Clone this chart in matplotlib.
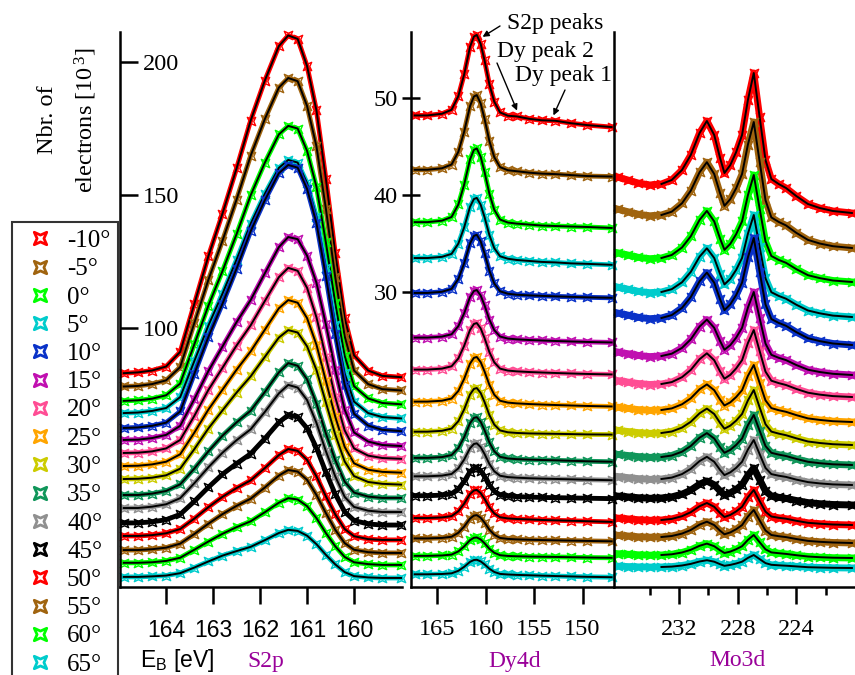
import matplotlib.pyplot as plt
from matplotlib.lines import Line2D
from matplotlib.path import Path

# Emission angles and their colours
angles = ['-10°', '-5°', '0°', '5°', '10°', '15°', '20°', '25°',
          '30°', '35°', '40°', '45°', '50°', '55°', '60°', '65°']
colors = ['#ff0000', '#a0640f', '#00ff00', '#00cccc', '#0a32c8', '#c010b0',
          '#ff4d94', '#ffa500', '#cccc00', '#10965a', '#909090', '#000000',
          '#ff0000', '#a0640f', '#00ff00', '#00cccc']

# S2p region (binding energy in eV, counts in 10^3)
s2p_energy = [164.9, 164.6, 164.3, 164.0, 163.7, 163.4, 163.1, 162.8, 162.5, 162.2, 161.9, 161.6,
              161.4, 161.2, 161.0, 160.8, 160.6, 160.4, 160.2, 160.0, 159.7, 159.4, 159.0]
s2p_counts = [
    [83.0, 83.3, 84.0, 85.5, 91.0, 109.0, 127.0, 143.0, 160.0, 178.0, 193.0, 206.0, 210.0, 208.7, 198.5, 181.8, 156.2, 128.1, 103.8, 89.7, 84.0, 82.0, 81.5],
    [78.0, 78.2, 78.9, 80.3, 85.3, 101.8, 118.1, 132.8, 148.3, 164.8, 178.5, 190.4, 194.0, 192.8, 183.5, 168.3, 144.9, 119.1, 96.9, 84.0, 78.9, 77.0, 76.5],
    [72.6, 72.8, 73.4, 74.7, 79.1, 93.8, 108.4, 121.4, 135.3, 149.9, 162.1, 172.8, 176.0, 175.0, 166.6, 153.1, 132.2, 109.3, 89.5, 78.1, 73.5, 71.8, 71.3],
    [68.0, 68.2, 68.8, 69.9, 74.0, 87.5, 100.9, 112.9, 125.7, 139.2, 150.4, 160.2, 163.2, 162.2, 154.5, 141.9, 122.6, 101.3, 82.9, 72.3, 68.0, 66.5, 66.0],
    [62.4, 62.6, 63.2, 64.4, 68.6, 82.7, 96.6, 109.1, 122.3, 136.4, 148.0, 158.2, 161.3, 160.3, 152.3, 139.4, 119.5, 97.6, 78.6, 67.7, 63.3, 61.7, 61.2],
    [57.9, 58.0, 58.6, 59.8, 63.2, 73.2, 83.8, 93.0, 102.2, 110.5, 120.5, 130.4, 134.2, 133.4, 127.2, 117.0, 101.4, 84.2, 69.3, 60.7, 57.3, 56.0, 55.6],
    [53.0, 53.1, 53.6, 54.7, 57.9, 66.9, 76.7, 85.0, 93.4, 101.0, 110.1, 119.1, 122.6, 121.5, 115.1, 104.0, 89.0, 74.0, 61.5, 54.7, 52.0, 51.1, 50.8],
    [48.1, 48.2, 48.7, 49.7, 52.5, 60.6, 69.3, 76.8, 84.3, 91.2, 99.3, 107.4, 110.5, 109.5, 103.7, 93.7, 80.1, 66.6, 55.3, 49.1, 46.7, 45.9, 45.6],
    [43.2, 43.3, 43.7, 44.6, 47.1, 54.4, 62.2, 69.0, 75.7, 81.8, 89.1, 96.4, 99.2, 98.3, 93.1, 84.2, 72.0, 59.9, 49.8, 44.3, 42.1, 41.4, 41.1],
    [37.2, 37.2, 37.7, 38.7, 41.2, 47.1, 53.6, 59.5, 64.5, 68.9, 75.9, 83.3, 86.8, 85.8, 80.7, 71.6, 60.4, 50.3, 42.2, 38.1, 36.6, 36.1, 36.1],
    [32.3, 32.3, 32.8, 33.7, 36.0, 41.6, 47.6, 53.1, 57.8, 61.9, 68.4, 75.4, 78.6, 77.6, 72.9, 64.3, 53.7, 44.2, 36.5, 32.7, 31.3, 30.8, 30.8],
    [26.7, 26.7, 27.1, 27.9, 29.9, 34.8, 40.1, 45.0, 49.0, 52.7, 58.4, 64.5, 67.3, 66.5, 62.3, 54.9, 45.8, 37.5, 30.9, 27.6, 26.3, 25.9, 25.9],
    [21.8, 21.8, 22.1, 22.8, 24.4, 28.3, 32.6, 36.5, 39.8, 42.7, 47.3, 52.2, 54.5, 53.8, 50.4, 44.2, 36.7, 29.9, 24.4, 21.7, 20.6, 20.3, 20.3],
    [16.5, 16.5, 16.8, 17.4, 18.9, 22.5, 26.4, 30.0, 33.1, 35.8, 40.0, 44.5, 46.6, 46.0, 42.9, 37.2, 30.4, 24.1, 19.1, 16.6, 15.7, 15.4, 15.4],
    [11.7, 11.7, 11.9, 12.4, 13.6, 16.6, 19.7, 22.6, 25.1, 27.3, 30.7, 34.3, 36.0, 35.5, 33.0, 28.5, 22.9, 17.9, 13.9, 11.9, 11.2, 10.9, 10.9],
    [6.4, 6.4, 6.6, 6.9, 7.8, 9.9, 12.2, 14.4, 16.1, 17.7, 20.2, 22.9, 24.1, 23.7, 21.9, 18.7, 14.7, 11.1, 8.2, 6.7, 6.2, 6.0, 6.0],
]

# Dy4d region
dy_energy = [167.3, 166.0, 164.5, 163.5, 162.8, 162.2, 161.6, 161.2, 160.9, 160.5, 160.1,
             159.6, 159.1, 158.5, 157.7, 156.8, 155.5, 154.2, 152.8, 151.2, 149.5, 147.0]
dy_counts = [
    [48.2, 48.2, 48.37, 48.78, 50.19, 52.43, 55.26, 56.33, 56.5, 55.57, 53.87, 51.4, 49.62, 48.51, 48.17, 48.1, 47.85, 47.7, 47.65, 47.4, 47.2, 47.0],
    [42.6, 42.6, 42.75, 43.14, 44.45, 46.53, 49.15, 50.15, 50.3, 49.43, 47.85, 45.56, 43.9, 42.87, 42.55, 42.45, 42.3, 42.2, 42.15, 42.05, 41.95, 41.9],
    [37.2, 37.2, 37.35, 37.73, 39.02, 41.08, 43.66, 44.65, 44.8, 43.94, 42.38, 40.12, 38.48, 37.47, 37.16, 37.05, 36.95, 36.85, 36.8, 36.75, 36.7, 36.6],
    [33.5, 33.5, 33.62, 33.93, 34.99, 36.66, 38.77, 39.58, 39.7, 39.0, 37.72, 35.86, 34.52, 33.68, 33.43, 33.3, 33.2, 33.1, 33.05, 32.95, 32.9, 32.8],
    [29.9, 29.9, 30.02, 30.32, 31.34, 32.96, 35.0, 35.78, 35.9, 35.22, 33.98, 32.18, 30.88, 30.07, 29.82, 29.72, 29.65, 29.6, 29.55, 29.5, 29.45, 29.4],
    [25.3, 25.3, 25.4, 25.64, 26.48, 27.8, 29.47, 30.1, 30.2, 29.64, 28.62, 27.14, 26.07, 25.41, 25.2, 25.12, 25.05, 25.0, 24.95, 24.9, 24.85, 24.8],
    [22.0, 22.0, 22.1, 22.34, 23.15, 24.45, 26.08, 26.7, 26.8, 26.25, 25.25, 23.8, 22.75, 22.1, 21.9, 21.82, 21.75, 21.7, 21.65, 21.6, 21.55, 21.5],
    [18.7, 18.7, 18.79, 19.02, 19.8, 21.05, 22.61, 23.21, 23.3, 22.77, 21.81, 20.42, 19.41, 18.79, 18.6, 18.52, 18.45, 18.4, 18.35, 18.3, 18.25, 18.2],
    [15.6, 15.6, 15.69, 15.92, 16.68, 17.9, 19.43, 20.01, 20.1, 19.59, 18.66, 17.31, 16.33, 15.73, 15.54, 15.47, 15.42, 15.4, 15.38, 15.35, 15.32, 15.3],
    [12.9, 12.9, 12.98, 13.19, 13.91, 15.04, 16.47, 17.02, 17.1, 16.62, 15.75, 14.49, 13.58, 13.01, 12.84, 12.77, 12.72, 12.68, 12.65, 12.6, 12.55, 12.5],
    [11.0, 11.0, 11.07, 11.24, 11.82, 12.73, 13.89, 14.33, 14.4, 14.01, 13.3, 12.27, 11.52, 11.06, 10.92, 10.86, 10.8, 10.76, 10.73, 10.69, 10.65, 10.6],
    [9.0, 9.0, 9.06, 9.2, 9.7, 10.48, 11.47, 11.84, 11.9, 11.57, 10.97, 10.1, 9.47, 9.08, 8.96, 8.91, 8.86, 8.82, 8.8, 8.77, 8.74, 8.7],
    [6.7, 6.7, 6.76, 6.9, 7.4, 8.18, 9.17, 9.54, 9.6, 9.27, 8.67, 7.8, 7.17, 6.78, 6.66, 6.6, 6.55, 6.5, 6.46, 6.42, 6.37, 6.3],
    [4.6, 4.6, 4.65, 4.77, 5.18, 5.82, 6.64, 6.95, 7.0, 6.73, 6.23, 5.5, 4.98, 4.65, 4.55, 4.5, 4.46, 4.43, 4.4, 4.37, 4.34, 4.3],
    [2.8, 2.8, 2.84, 2.93, 3.26, 3.77, 4.42, 4.66, 4.7, 4.49, 4.1, 3.53, 3.12, 2.87, 2.79, 2.76, 2.73, 2.71, 2.69, 2.66, 2.63, 2.6],
    [0.9, 0.9, 0.93, 1.0, 1.26, 1.67, 2.18, 2.37, 2.4, 2.23, 1.92, 1.47, 1.14, 0.94, 0.88, 0.84, 0.8, 0.76, 0.72, 0.68, 0.64, 0.6],
]

# Mo3d region (arbitrary offset units)
mo_energy = [236.2, 235.5, 234.8, 234.0, 233.2, 232.5, 231.8, 231.2, 230.6, 230.1, 229.6, 229.2, 228.9, 228.5,
             228.1, 227.7, 227.3, 226.9, 226.5, 226.1, 225.7, 225.2, 224.7, 224.0, 223.2, 222.4, 221.5, 220.2]
mo_counts = [
    [41.0, 40.7, 40.4, 40.2, 40.3, 40.7, 41.7, 43.2, 45.4, 46.6, 45.2, 42.9, 41.4, 42.2, 43.5, 45.2, 48.7, 51.4, 47.0, 42.7, 40.8, 40.3, 39.9, 39.1, 38.3, 37.9, 37.6, 37.4],
    [37.79, 37.53, 37.28, 37.12, 37.2, 37.53, 38.37, 39.63, 41.47, 42.48, 41.3, 39.38, 38.12, 38.79, 39.88, 41.3, 44.24, 46.5, 42.54, 38.68, 36.96, 36.51, 36.16, 35.42, 34.71, 34.35, 34.08, 33.9],
    [33.42, 33.2, 32.97, 32.83, 32.9, 33.2, 33.95, 35.07, 36.71, 37.61, 36.56, 34.84, 33.72, 34.32, 35.29, 36.56, 39.18, 41.2, 37.84, 34.56, 33.1, 32.71, 32.42, 31.79, 31.18, 30.89, 30.65, 30.5],
    [29.99, 29.78, 29.57, 29.43, 29.5, 29.78, 30.47, 31.51, 33.03, 33.87, 32.9, 31.3, 30.26, 30.82, 31.72, 32.9, 35.33, 37.2, 34.0, 30.87, 29.48, 29.11, 28.83, 28.23, 27.65, 27.37, 27.14, 27.0],
    [27.4, 27.19, 26.97, 26.83, 26.9, 27.19, 27.91, 28.99, 30.57, 31.44, 30.43, 28.77, 27.69, 28.27, 29.2, 30.43, 32.96, 34.9, 31.54, 28.26, 26.8, 26.41, 26.12, 25.49, 24.88, 24.59, 24.35, 24.2],
    [23.5, 23.33, 23.16, 23.04, 23.1, 23.33, 23.91, 24.77, 26.04, 26.74, 25.92, 24.6, 23.73, 24.19, 24.94, 25.92, 27.94, 29.5, 26.89, 24.35, 23.22, 22.92, 22.69, 22.2, 21.73, 21.5, 21.32, 21.2],
    [20.64, 20.49, 20.35, 20.25, 20.3, 20.49, 20.98, 21.71, 22.78, 23.37, 22.68, 21.56, 20.83, 21.22, 21.86, 22.68, 24.39, 25.7, 23.6, 21.54, 20.63, 20.39, 20.2, 19.81, 19.43, 19.24, 19.09, 19.0],
    [17.98, 17.86, 17.74, 17.66, 17.7, 17.86, 18.27, 18.87, 19.77, 20.26, 19.68, 18.75, 18.15, 18.47, 19.0, 19.68, 21.11, 22.2, 20.41, 18.66, 17.89, 17.68, 17.52, 17.19, 16.86, 16.71, 16.58, 16.5],
    [15.67, 15.55, 15.44, 15.36, 15.4, 15.55, 15.94, 16.52, 17.37, 17.84, 17.3, 16.41, 15.83, 16.14, 16.64, 17.3, 18.66, 19.7, 17.97, 16.28, 15.54, 15.34, 15.18, 14.87, 14.55, 14.4, 14.28, 14.2],
    [13.26, 13.15, 13.04, 12.96, 13.0, 13.15, 13.53, 14.1, 14.93, 15.39, 14.85, 13.98, 13.42, 13.72, 14.21, 14.85, 16.18, 17.2, 15.63, 14.1, 13.42, 13.24, 13.1, 12.81, 12.52, 12.38, 12.27, 12.2],
    [11.05, 10.94, 10.84, 10.76, 10.8, 10.94, 11.29, 11.82, 12.59, 13.02, 12.52, 11.71, 11.19, 11.47, 11.92, 12.52, 13.75, 14.7, 13.29, 11.91, 11.29, 11.13, 11.01, 10.74, 10.49, 10.36, 10.26, 10.2],
    [9.09, 9.01, 8.93, 8.87, 8.9, 9.01, 9.28, 9.68, 10.28, 10.6, 10.22, 9.6, 9.2, 9.41, 9.76, 10.22, 11.17, 11.9, 10.74, 9.6, 9.1, 8.97, 8.86, 8.65, 8.44, 8.33, 8.25, 8.2],
    [6.89, 6.81, 6.73, 6.67, 6.7, 6.81, 7.08, 7.48, 8.08, 8.4, 8.02, 7.4, 7.0, 7.21, 7.56, 8.02, 8.97, 9.7, 8.6, 7.53, 7.05, 6.92, 6.83, 6.62, 6.42, 6.33, 6.25, 6.2],
    [5.17, 5.1, 5.02, 4.98, 5.0, 5.1, 5.34, 5.7, 6.24, 6.53, 6.19, 5.63, 5.27, 5.46, 5.78, 6.19, 7.04, 7.7, 6.66, 5.65, 5.2, 5.08, 4.99, 4.8, 4.61, 4.52, 4.45, 4.4],
    [3.33, 3.27, 3.22, 3.18, 3.2, 3.27, 3.45, 3.72, 4.12, 4.34, 4.08, 3.67, 3.4, 3.54, 3.78, 4.08, 4.71, 5.2, 4.48, 3.77, 3.46, 3.38, 3.31, 3.18, 3.05, 2.98, 2.93, 2.9],
    [2.08, 2.04, 2.01, 1.99, 2.0, 2.04, 2.15, 2.31, 2.55, 2.68, 2.53, 2.28, 2.12, 2.21, 2.35, 2.53, 2.91, 3.2, 2.79, 2.39, 2.22, 2.17, 2.13, 2.06, 1.98, 1.95, 1.92, 1.9],
]

plt.rcParams['font.family'] = 'Liberation Serif'
plt.rcParams['mathtext.default'] = 'regular'
SANS = 'Liberation Sans'
PURPLE = '#990099'

# concave square marker like the one used in the original
star = Path([(-1, -1), (0, -0.55), (1, -1), (0.55, 0), (1, 1), (0, 0.55), (-1, 1), (-0.55, 0), (-1, -1)],
            [Path.MOVETO] + [Path.LINETO] * 7 + [Path.CLOSEPOLY])

W, H = 855, 675
fig = plt.figure(figsize=(W / 100, H / 100), dpi=100)


def box(left, right, top=32, bottom=587):
    return fig.add_axes([left / W, 1 - bottom / H, (right - left) / W, (bottom - top) / H])


ax1 = box(120, 402)
ax2 = box(411, 613)
ax3 = box(614, 855)


def draw(ax, energy, rows, band, fit_from=0):
    for row, c in zip(rows, colors):
        ax.plot(energy, row, color=c, lw=band, marker=star, ms=6, mfc='none', mec=c, mew=1.0,
                clip_on=False, solid_joinstyle='round')
        ax.plot(energy[fit_from:], row[fit_from:], color='black', lw=1.4, clip_on=False)


draw(ax1, s2p_energy, s2p_counts, 3.5)
draw(ax2, dy_energy, dy_counts, 3.5)
draw(ax3, mo_energy, mo_counts, 5, fit_from=4)

for ax in (ax1, ax2, ax3):
    ax.patch.set_alpha(0)
    for side in ('top', 'right'):
        ax.spines[side].set_visible(False)
    for side in ('left', 'bottom'):
        ax.spines[side].set_linewidth(1.8)
    ax.tick_params(axis='x', direction='out', length=12, width=1.8, pad=11, labelsize=17.5)

# S2p panel
ax1.set_xlim(164.98, 158.98)
ax1.set_ylim(2.6, 211.3)
ax1.set_xticks([164, 163, 162, 161, 160])
ax1.set_yticks([100, 150, 200])
ax1.tick_params(axis='x', labelsize=16.5)
for lbl in ax1.get_xticklabels():
    lbl.set_family(SANS)
ax1.tick_params(axis='y', direction='in', length=13, width=1.8, pad=-16.5, labelsize=17.5)
for lbl in ax1.get_yticklabels():
    lbl.set_horizontalalignment('left')

# Dy4d panel
ax2.set_xlim(167.68, 146.86)
ax2.set_ylim(-0.41, 56.8)
ax2.set_xticks([165, 160, 155, 150])
ax2.set_yticks([30, 40, 50])
ax2.tick_params(axis='y', direction='inout', length=13, width=1.8, pad=3, labelsize=17.5)

# Mo3d panel
ax3.set_xlim(236.44, 219.99)
ax3.set_ylim(0, 55.5)
ax3.set_xticks([232, 228, 224])
ax3.set_xticks([234, 230, 226, 222], minor=True)
ax3.tick_params(axis='x', which='minor', direction='out', length=6, width=1.8)
ax3.set_yticks([])

# peak annotations
arrow = dict(arrowstyle='-|>', color='black', lw=1.0, mutation_scale=9, shrinkA=0, shrinkB=0)
ax2.annotate('', xy=(160.3, 56.3), xytext=(500, H - 26), textcoords='figure pixels', arrowprops=arrow)
ax2.annotate('', xy=(156.75, 48.7), xytext=(497, H - 63), textcoords='figure pixels', arrowprops=arrow)
ax2.annotate('', xy=(153.0, 48.2), xytext=(565, H - 90), textcoords='figure pixels', arrowprops=arrow)
fig.text(507 / W, 1 - 24 / H, 'S2p peaks', fontsize=17, ha='left', va='center')
fig.text(497 / W, 1 - 52 / H, 'Dy peak 2', fontsize=17, ha='left', va='center')
fig.text(515 / W, 1 - 76 / H, 'Dy peak 1', fontsize=17, ha='left', va='center')

# axis titles
fig.text(68 / W, 1 - 120 / H, 'Nbr. of\nelectrons [10$^{\\,3}$]', rotation=90, fontsize=17.5,
         ha='center', va='center', multialignment='center', linespacing=1.7)
fig.text(140 / W, 1 - 660 / H, 'E$_B$ [eV]', family=SANS, fontsize=16.5, ha='left', va='center')
fig.text(266 / W, 1 - 661 / H, 'S2p', color=PURPLE, fontsize=17, ha='center', va='center')
fig.text(515 / W, 1 - 661 / H, 'Dy4d', color=PURPLE, fontsize=17, ha='center', va='center')
fig.text(737 / W, 1 - 661 / H, 'Mo3d', color=PURPLE, fontsize=17, ha='center', va='center')

# legend with marker-only handles
handles = [Line2D([], [], ls='none', marker=star, ms=9, mfc='none', mec=c, mew=2) for c in colors]
leg = fig.legend(handles, angles, loc='upper left', bbox_to_anchor=(12 / W, 1 - 222 / H),
                 frameon=True, fancybox=False, edgecolor='black', fontsize=18,
                 labelspacing=0.23, handlelength=1.6, handletextpad=0.3, borderpad=0.3,
                 borderaxespad=0)
leg.get_frame().set_linewidth(1.5)

fig.savefig('out.png', dpi=100)
